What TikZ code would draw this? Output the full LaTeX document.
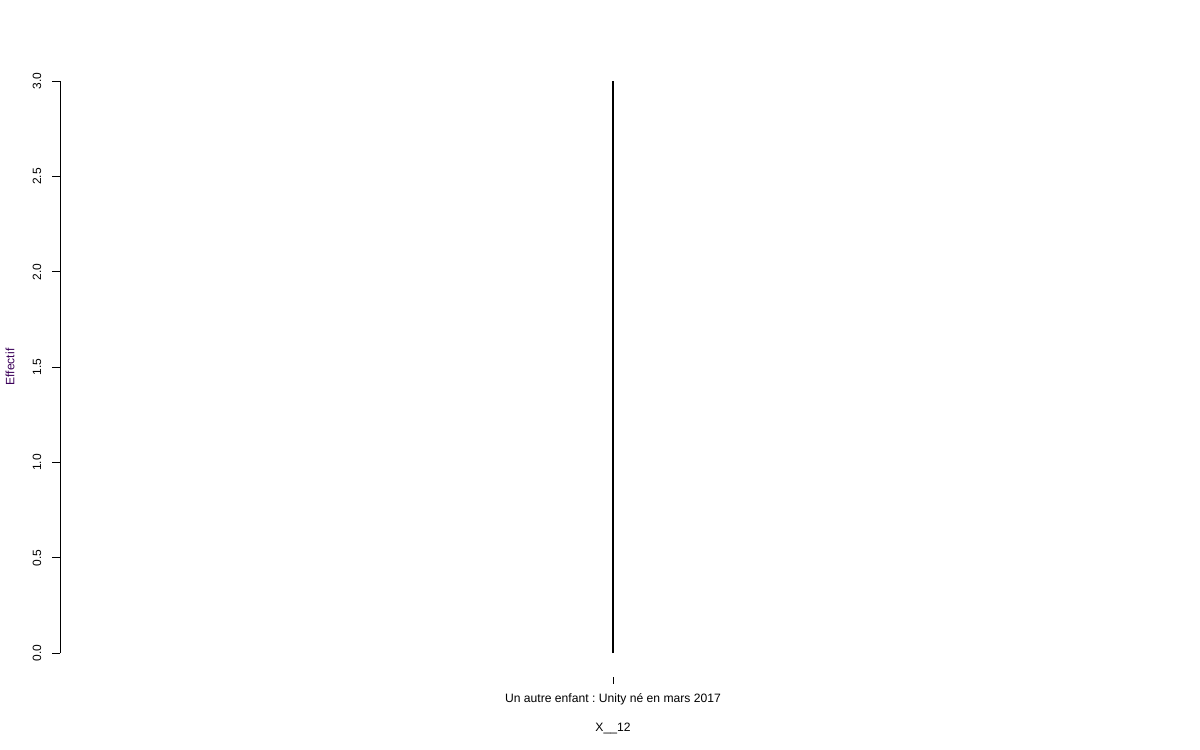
\documentclass[tikz,border=0pt]{standalone}
\usepackage{fontspec}
\setmainfont{Liberation Sans}
\usetikzlibrary{calc}
\definecolor{labpurple}{RGB}{60,0,90}
\frenchspacing
\begin{document}
\begin{tikzpicture}[x=0.75pt,y=-0.75pt,
  axisline/.style={line width=0.75pt,black},
  ticklab/.style={font=\fontsize{9}{10}\selectfont,rotate=90,inner sep=0pt,anchor=center},
  txt/.style={font=\fontsize{9.1}{10}\selectfont,inner sep=0pt,anchor=center}]
\useasboundingbox (0,0) rectangle (1200,750);
\fill[white] (0,0) rectangle (1200,750);
% y axis
\coordinate (ytop) at (60,81);
\coordinate (ybot) at (60,653);
\draw[axisline] (ytop) -- (ybot);
\foreach \v/\lab in {0/0.0,1/0.5,2/1.0,3/1.5,4/2.0,5/2.5,6/3.0}{
  \coordinate (t\v) at (60,{653-\v*95.333});
  \draw[axisline] (t\v) -- ++(-8,0);
  \node[ticklab] (l\v) at ($(t\v)+(-23,0)$) {\lab};
}
\node[txt,rotate=90,text=labpurple] (ylab) at (10,367) {Effectif};
% bar
\coordinate (bartop) at (613,81);
\coordinate (barbot) at (613,653);
\draw[line width=2pt,black] (barbot) -- (bartop);
% x tick
\coordinate (xt1) at (613,677);
\coordinate (xt2) at (613,684);
\draw[axisline] (xt1) -- (xt2);
\node[txt] (xlab) at (613,699) {Un autre enfant : Unity né en mars 2017};
\node[txt] (xtitle) at (613,728) {X\_\_12};
\end{tikzpicture}
\end{document}
